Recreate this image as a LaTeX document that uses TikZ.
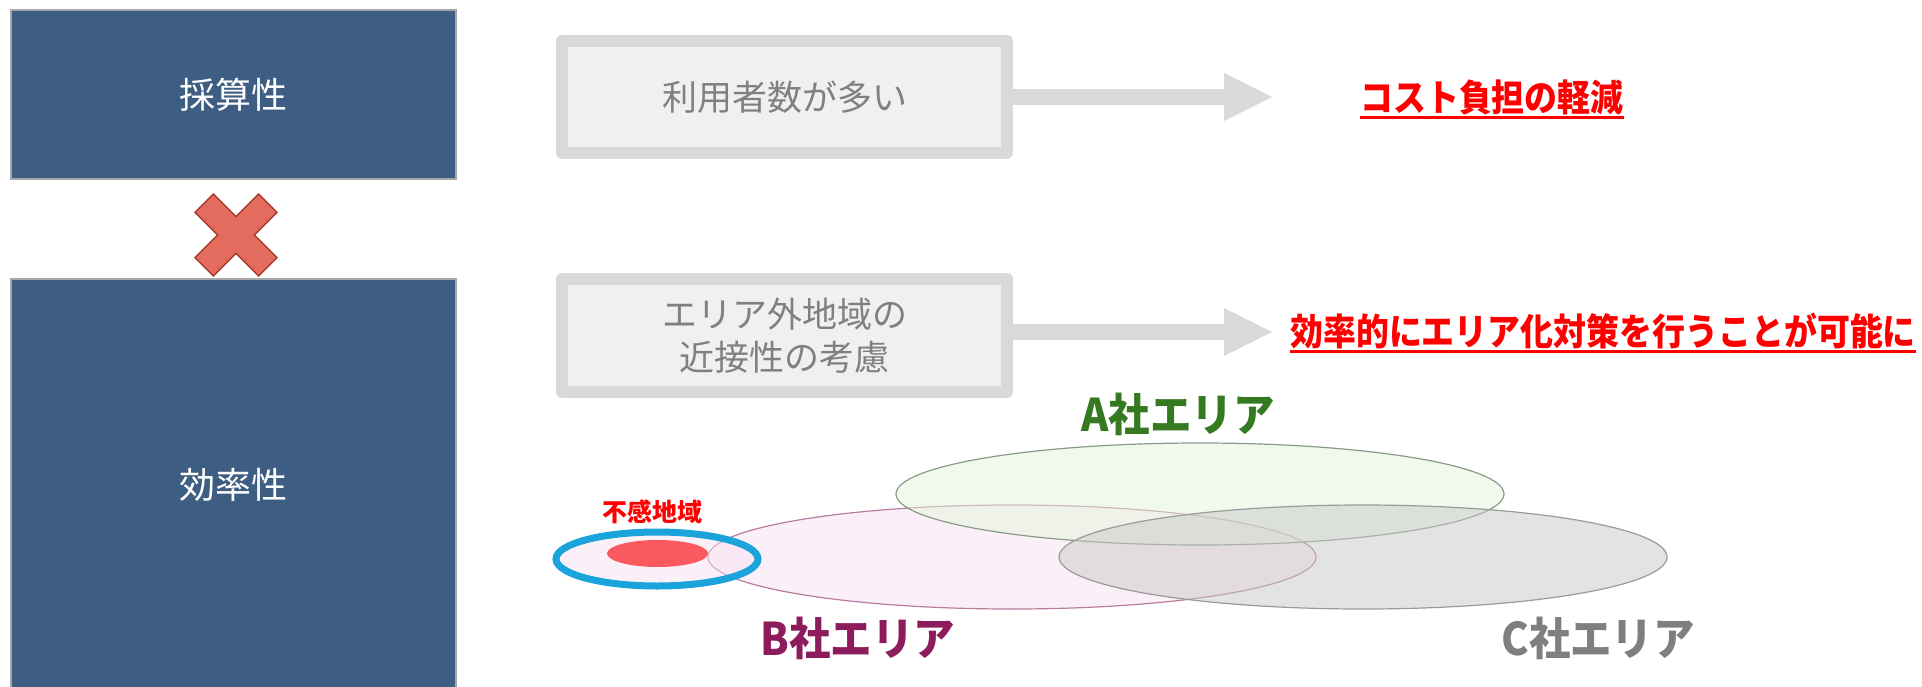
\documentclass[tikz,border=0pt]{standalone}
\usepackage{fontspec}
\newfontfamily\jp{Noto Sans CJK JP}
\usetikzlibrary{arrows.meta}
\definecolor{navy}{HTML}{3E5D82}
\definecolor{boxedge}{HTML}{A6A6A6}
\definecolor{crossfill}{HTML}{E46C5E}
\definecolor{crossedge}{HTML}{A83A2E}
\definecolor{gboxedge}{HTML}{D9D9D9}
\definecolor{gboxfill}{HTML}{F0F0F0}
\definecolor{gtext}{HTML}{808080}
\definecolor{arrowgray}{HTML}{D9D9D9}
\definecolor{hired}{HTML}{FF0000}
\definecolor{agreen}{HTML}{357A21}
\definecolor{bmag}{HTML}{8C1C5C}
\definecolor{cgray}{HTML}{7F7F7F}
\definecolor{afill}{HTML}{E2F4DA}
\definecolor{aedge}{HTML}{8A9A88}
\definecolor{bfill}{HTML}{F8E2F1}
\definecolor{bedge}{HTML}{B87D9E}
\definecolor{cfill}{HTML}{C8C8C8}
\definecolor{cedge}{HTML}{9A9A9A}
\definecolor{ringblue}{HTML}{1BA3DC}
\definecolor{spotred}{HTML}{FA5A5F}
\tikzset{
  bluebox/.style={draw=boxedge, line width=1.5pt, fill=navy, text=white,
    font=\jp\fontsize{36}{43}\selectfont, inner sep=0pt, minimum width=445pt},
  graybox/.style={draw=gboxedge, fill=gboxfill, line width=12pt, line join=round,
    text=gtext, font=\jp\fontsize{35}{43}\selectfont, align=center,
    inner sep=0pt, minimum width=445pt},
  fatarrow/.style={draw=arrowgray, line width=16pt,
    -{Triangle[length=48pt,width=48pt,line width=0pt]}},
  redtxt/.style={text=hired, font=\jp\bfseries\fontsize{37}{44}\selectfont, inner sep=0pt},
  redline/.style={draw=hired, line width=3pt},
  crossstyle/.style={fill=crossfill, draw=crossedge, line width=1.5pt, line join=miter},
  arealabel/.style={font=\jp\bfseries\fontsize{45}{50}\selectfont, inner sep=0pt},
  areaA/.style={fill=afill, fill opacity=0.5, draw=aedge, line width=1.2pt},
  areaB/.style={fill=bfill, fill opacity=0.5, draw=bedge, line width=1.2pt},
  areaC/.style={fill=cfill, fill opacity=0.5, draw=cedge, line width=1.2pt},
}
\begin{document}
\begin{tikzpicture}[x=1pt,y=-1pt]
\useasboundingbox (0,0) rectangle (1922,686);
\clip (0,0) rectangle (1922,686);

% left boxes
\node[bluebox, minimum height=169pt] (b1) at (233.5,94.5) {採算性};
\node[bluebox, minimum height=412pt] (b2) at (233.5,485) {効率性};

% cross
\draw[crossstyle, shift={(236,235)}, rotate=45]
  (-45,-13) -- (-13,-13) -- (-13,-45) -- (13,-45) -- (13,-13) -- (45,-13)
  -- (45,13) -- (13,13) -- (13,45) -- (-13,45) -- (-13,13) -- (-45,13) -- cycle;

% gray boxes
\node[graybox, minimum height=111.5pt] (g1) at (784.5,96.75) {利用者数が多い};
\node[graybox, minimum height=112.5pt] (g2) at (784.5,335.25) {エリア外地域の\\近接性の考慮};

% arrows
\coordinate (t1) at (1272,97);
\coordinate (t2) at (1272,332);
\draw[fatarrow] (g1.east |- t1) -- (t1);
\draw[fatarrow] (g2.east |- t2) -- (t2);

% red results
\node[redtxt, anchor=base west] (r1) at (1360,111) {\scalebox{0.89}[1]{コスト負担の軽減}};
\draw[redline] ([yshift=-6.5pt]r1.base west) -- ([yshift=-6.5pt]r1.base east);
\node[redtxt, anchor=base west] (r2) at (1290,345.5) {\scalebox{0.89}[1]{効率的にエリア化対策を行うことが可能に}};
\draw[redline] ([yshift=-6pt]r2.base west) -- ([yshift=-6pt]r2.base east);

% area ellipses
\draw[areaB] (1012,557) ellipse [x radius=304, y radius=52];
\draw[areaA] (1200,494) ellipse [x radius=304, y radius=51];
\draw[areaC] (1363,557) ellipse [x radius=304, y radius=52];

% blind spot
\fill[bfill, fill opacity=0.5] (657,559) ellipse [x radius=101, y radius=27];
\fill[spotred] (657.5,553.5) ellipse [x radius=50.5, y radius=13.5];
\draw[ringblue, line width=7pt] (657,559) ellipse [x radius=101, y radius=27];
\node[font=\jp\bfseries\fontsize{25}{30}\selectfont, text=hired, inner sep=0pt] (fk) at (652,512) {不感地域};

% area labels
\node[arealabel, text=agreen] (la) at (1178,414) {\scalebox{0.92}[1]{A社エリア}};
\node[arealabel, text=bmag] (lb) at (858,638) {\scalebox{0.92}[1]{B社エリア}};
\node[arealabel, text=cgray] (lc) at (1598,638) {\scalebox{0.92}[1]{C社エリア}};
\end{tikzpicture}
\end{document}
